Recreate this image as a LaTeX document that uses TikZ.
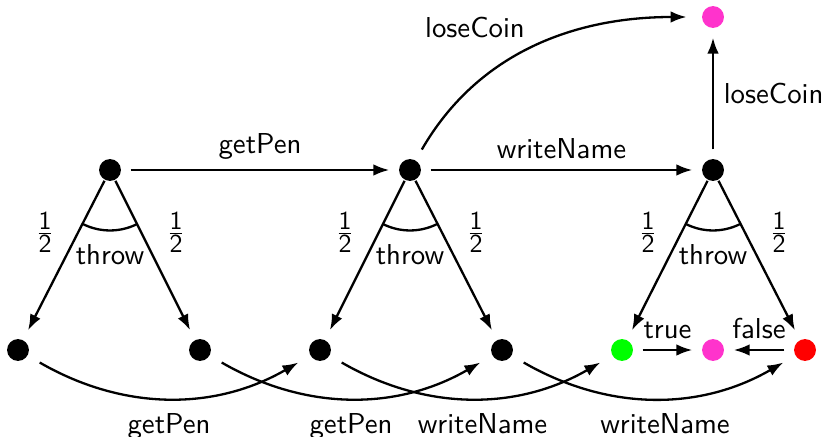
\documentclass[tikz,border=0pt]{standalone}
\usetikzlibrary{arrows.meta}
\definecolor{losepink}{RGB}{255,51,204}
\begin{document}
\begin{tikzpicture}[x=0.0122cm,y=-0.0122cm,line join=round,thick,font=\sffamily,
        >={Latex[length=5.5pt,width=4pt]}]
                \tikzset{st/.style={circle,fill,inner sep=0pt,minimum size=7.6pt},
                    tr/.style={->,shorten >=3pt,shorten <=3pt},
                    half/.style={inner sep=1pt,scale=0.9}}
                \def \rarc{21pt}
                \def \half{$\frac{\textsf{1}}{\textsf{2}}$}
                \useasboundingbox (0,0) rectangle (829,437);
                % states
                \node[st] (a) at (110,170) {};
                \node[st] (b) at (410,170) {};
                \node[st] (c) at (713,170) {};
                \node[st,fill=losepink] (lose) at (713,17) {};
                \node[st] (a1) at (18,350) {};
                \node[st] (a2) at (200,350) {};
                \node[st] (b1) at (320,350) {};
                \node[st] (b2) at (502,350) {};
                \node[st,fill=green] (c1) at (622,350) {};
                \node[st,fill=losepink] (win) at (713,350) {};
                \node[st,fill=red] (c2) at (805,350) {};
                % throws
                \foreach \n/\l/\r in {a/a1/a2,b/b1/b2,c/c1/c2}{
                    \draw[->,shorten >=3.5pt] (\n) -- (\l);
                    \draw[->,shorten >=3.5pt] (\n) -- (\r);
                    \draw (\n.center) ++(-117:\rarc) arc (-117:-63:\rarc);
                    \path (\n) ++(0,85) node (\n t) {throw};
                    \path (\n) ++(-65,62) node[half] (\n h1) {\half};
                    \path (\n) ++(66,62) node[half] (\n h2) {\half};
                }
                % top row
                \draw[tr] (a) -- node[above] {getPen} (b);
                \draw[tr] (b) -- node[above] {writeName} (c);
                \draw[tr] (c) -- node[right] {loseCoin} (lose);
                \draw[tr,shorten >=5pt,shorten <=4pt] (b) to[out=60,in=180] (lose);
                \node (lc) at (475,27) {loseCoin};
                % bottom row
                \draw[tr] (c1) -- node[above=0pt] {true} (win);
                \draw[tr] (c2) -- node[above=0pt] {false} (win);
                \draw[tr,shorten >=4.5pt,shorten <=4.5pt] (a1) to[bend right=30] node[below=2pt] {getPen} (b1);
                \draw[tr,shorten >=4.5pt,shorten <=4.5pt] (a2) to[bend right=30] node[below=2pt] {getPen} (b2);
                \draw[tr,shorten >=4.5pt,shorten <=4.5pt] (b1) to[bend right=30] node[below=2pt,xshift=4pt] {writeName} (c1);
                \draw[tr,shorten >=4.5pt,shorten <=4.5pt] (b2) to[bend right=30] node[below=2pt,xshift=4pt] {writeName} (c2);
        \end{tikzpicture}
\end{document}
